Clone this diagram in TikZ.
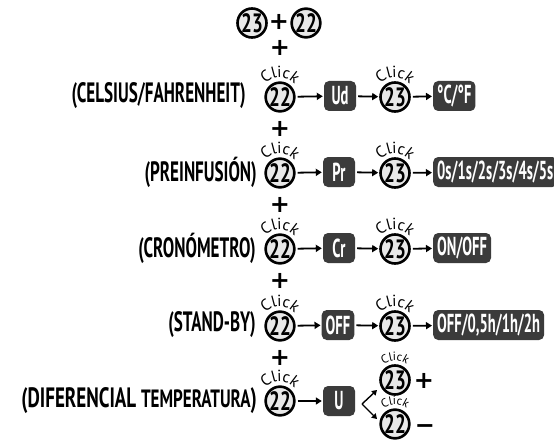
\documentclass[tikz,border=0pt]{standalone}
\usepackage{fontspec}
\setmainfont{PT Sans}
\newfontfamily\lblfont{PT Sans}[FakeStretch=0.61]
\newfontfamily\lblwidefont{PT Sans}[FakeStretch=0.68]
\newfontfamily\keyfont{PT Sans}[FakeStretch=0.56]
\newfontfamily\numfont{PT Sans}[FakeStretch=0.72]
\newfontfamily\symfont{DejaVu Sans}
\usetikzlibrary{arrows.meta,decorations.text}
\newcommand{\clickover}[2][16]{\path [decorate,decoration={text along path,text align=center,text={|\fontsize{#1}{#1}\selectfont|Click}}] ([shift={(165:19.5)}]#2.center) arc (165:15:19.5);}

\begin{document}
\begin{tikzpicture}[x=1pt,y=1pt,
    btn/.style={circle,draw,line width=2.6pt,fill=black!9,minimum size=27pt,inner sep=0pt,font=\numfont\bfseries\fontsize{26.5}{26.5}\selectfont},
    key/.style={rounded corners=5pt,fill=black!77,text=white,minimum height=30pt,minimum width=32pt,inner xsep=4pt,font=\keyfont\bfseries\fontsize{26}{26}\selectfont},
    lbl/.style={anchor=east,inner sep=0pt,font=\lblfont\bfseries\fontsize{28}{28}\selectfont},
    sym/.style={inner sep=0pt,text height=14pt,text depth=0pt,font=\symfont\bfseries\fontsize{24}{24}\selectfont},
    arr/.style={-{Triangle[length=6pt,width=7pt]},line width=1.8pt,shorten <=2pt,shorten >=1pt}]
    \useasboundingbox (0,0) rectangle (554,-441);

    \node [btn] (t23) at (252,-23) {23};
    \node [sym] (tplus) at (279,-23) {+};
    \node [btn] (t22) at (306,-23) {22};
    \node [sym] (plus1) at (280,-49) {+};

    \node [lbl] (celsius) at (246,-96) {(CELSIUS/FAHRENHEIT)};
    \node [btn] (a22) at (280,-97) {22};
    \node [key] (ud) at (340,-96) {Ud};
    \node [btn] (a23) at (395,-97) {23};
    \node [key,anchor=west] (cf) at (433,-96) {°C/°F};
    \node [sym] (plus2) at (280,-129) {+};

    \node [lbl] (preinf) at (257,-172) {(PREINFUSIÓN)};
    \node [btn] (b22) at (280,-173) {22};
    \node [key] (pr) at (339,-172) {Pr};
    \node [btn] (b23) at (395,-173) {23};
    \node [key,anchor=west] (secs) at (433,-172) {0s/1s/2s/3s/4s/5s};
    \node [sym] (plus3) at (280,-205) {+};

    \node [lbl] (crono) at (256,-248) {(CRONÓMETRO)};
    \node [btn] (c22) at (280,-249) {22};
    \node [key] (cr) at (339,-248) {Cr};
    \node [btn] (c23) at (395,-249) {23};
    \node [key,anchor=west] (onoff) at (433,-248) {ON/OFF};
    \node [sym] (plus4) at (280,-281) {+};

    \node [lbl] (standby) at (256,-325) {(STAND-BY)};
    \node [btn] (d22) at (280,-326) {22};
    \node [key] (off) at (338,-325) {OFF};
    \node [btn] (d23) at (395,-326) {23};
    \node [key,anchor=west] (hours) at (433,-325) {OFF/0,5h/1h/2h};
    \node [sym] (plus5) at (280,-358) {+};

    \node [lbl,font=\lblwidefont\bfseries\fontsize{28}{28}\selectfont] (difer) at (257,-401) {(DIFERENCIAL {\fontsize{25}{25}\selectfont TEMPERATURA})};
    \node [btn] (e22) at (280,-401) {22};
    \node [key] (u) at (339,-401) {U};
    \coordinate (fork) at (362,-404);
    \coordinate (forkup) at (377,-390);
    \coordinate (forkdn) at (377,-419);
    \node [btn] (up23) at (395,-380) {23};
    \node [sym] (upplus) at (424,-381) {+};
    \node [btn] (dn22) at (395,-424) {22};
    \node [sym] (dnminus) at (425,-426) {−};

    \draw [arr] (a22) -- (ud);
    \draw [arr] (ud) -- (a23);
    \draw [arr] (a23) -- (cf);
    \draw [arr] (b22) -- (pr);
    \draw [arr] (pr) -- (b23);
    \draw [arr] (b23) -- (secs);
    \draw [arr] (c22) -- (cr);
    \draw [arr] (cr) -- (c23);
    \draw [arr] (c23) -- (onoff);
    \draw [arr] (d22) -- (off);
    \draw [arr] (off) -- (d23);
    \draw [arr] (d23) -- (hours);
    \draw [arr] (e22) -- (u);
    \draw [-{Triangle[length=5pt,width=6pt]},line width=1.4pt] (fork) -- (forkup);
    \draw [-{Triangle[length=5pt,width=6pt]},line width=1.4pt] (fork) -- (forkdn);

    \clickover{a22} \clickover{a23}
    \clickover{b22} \clickover{b23}
    \clickover{c22} \clickover{c23}
    \clickover{d22} \clickover{d23}
    \clickover{e22}
    \clickover[12]{up23} \clickover[12]{dn22}
\end{tikzpicture}
\end{document}
